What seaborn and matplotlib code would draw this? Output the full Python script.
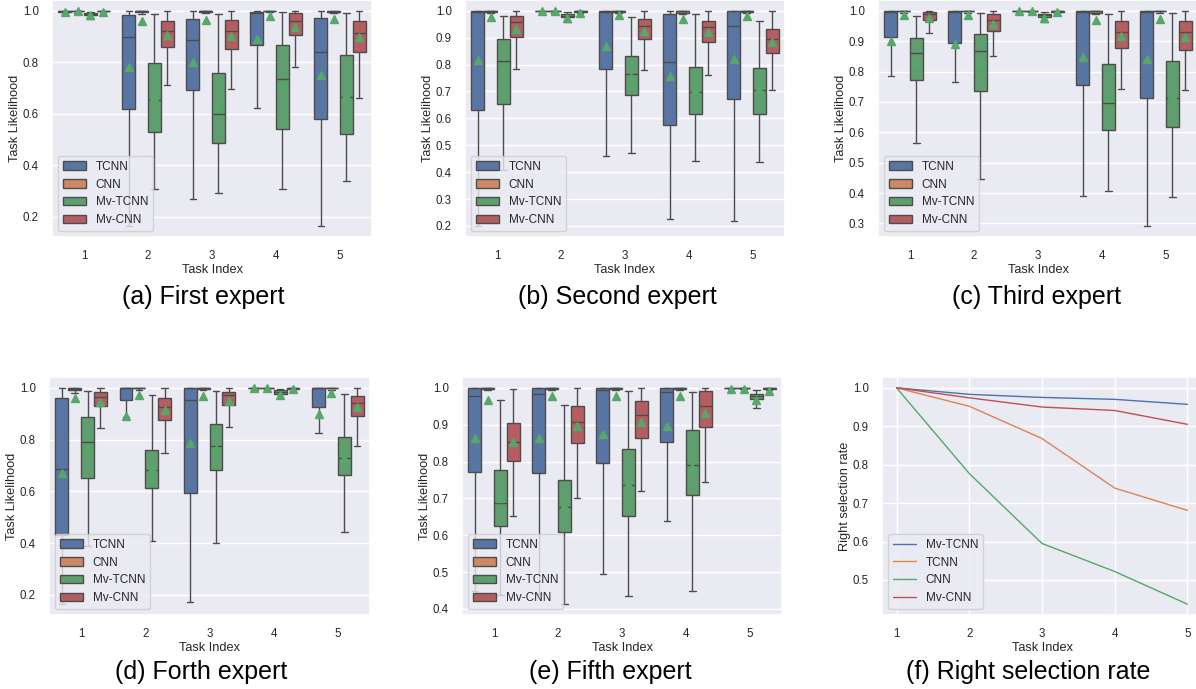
import matplotlib

matplotlib.use("Agg")
import matplotlib.pyplot as plt
import numpy as np
import pandas as pd
import seaborn as sns
from matplotlib.ticker import MultipleLocator

MODELS = ["TCNN", "CNN", "Mv-TCNN", "Mv-CNN"]
TASKS = [1, 2, 3, 4, 5]

# Box statistics
# rows: TCNN, CNN, Mv-TCNN, Mv-CNN ; columns: task 1..5
first_lo = [[0.990, 0.164, 0.271, 0.681, 0.164],
            [0.995, 0.987, 0.990, 0.995, 0.990],
            [0.975, 0.309, 0.293, 0.308, 0.338],
            [0.995, 0.711, 0.698, 0.781, 0.662]]
first_q1 = [[0.996, 0.618, 0.691, 0.869, 0.582],
            [0.998, 0.995, 0.995, 0.998, 0.994],
            [0.982, 0.528, 0.488, 0.543, 0.520],
            [0.998, 0.859, 0.851, 0.906, 0.839]]
first_med = [[0.998, 0.897, 0.887, 0.991, 0.839],
             [0.999, 0.998, 0.998, 0.999, 0.997],
             [0.988, 0.653, 0.601, 0.735, 0.666],
             [0.999, 0.920, 0.920, 0.961, 0.913]]
first_q3 = [[1.0, 0.983, 0.970, 0.997, 0.972],
            [1.0, 1.0, 1.0, 1.0, 1.0],
            [0.992, 0.798, 0.758, 0.868, 0.830],
            [1.0, 0.961, 0.965, 0.991, 0.961]]
first_hi = [[1.0, 1.0, 1.0, 1.0, 1.0],
            [1.0, 1.0, 1.0, 1.0, 1.0],
            [0.997, 0.987, 0.987, 0.994, 0.990],
            [1.0, 1.0, 1.0, 1.0, 1.0]]
first_mean = [[0.994, 0.781, 0.803, 0.891, 0.749],
              [0.998, 0.961, 0.965, 0.978, 0.968],
              [0.985, 0.666, 0.627, 0.707, 0.672],
              [0.997, 0.905, 0.904, 0.938, 0.897]]

second_lo = [[0.199, 0.995, 0.461, 0.227, 0.219],
             [0.990, 0.995, 0.990, 0.988, 0.990],
             [0.408, 0.957, 0.472, 0.441, 0.438],
             [0.784, 0.993, 0.781, 0.763, 0.707]]
second_q1 = [[0.630, 0.998, 0.784, 0.577, 0.673],
             [0.997, 0.998, 0.997, 0.992, 0.997],
             [0.652, 0.975, 0.686, 0.618, 0.618],
             [0.904, 0.997, 0.895, 0.885, 0.843]]
second_med = [[0.994, 0.999, 0.997, 0.809, 0.942],
              [0.999, 0.999, 0.999, 0.998, 0.999],
              [0.813, 0.981, 0.766, 0.698, 0.707],
              [0.957, 0.999, 0.942, 0.938, 0.895]]
second_q3 = [[0.998, 1.0, 0.998, 0.988, 0.998],
             [1.0, 1.0, 1.0, 1.0, 1.0],
             [0.895, 0.988, 0.831, 0.790, 0.788],
             [0.982, 1.0, 0.969, 0.963, 0.932]]
second_hi = [[1.0, 1.0, 1.0, 1.0, 1.0],
             [1.0, 1.0, 1.0, 1.0, 1.0],
             [0.979, 0.995, 0.975, 0.988, 0.961],
             [1.0, 1.0, 1.0, 1.0, 1.0]]
second_mean = [[0.818, 0.998, 0.868, 0.756, 0.821],
               [0.975, 0.998, 0.985, 0.969, 0.981],
               [0.772, 0.972, 0.755, 0.704, 0.710],
               [0.932, 0.991, 0.924, 0.920, 0.885]]

third_lo = [[0.785, 0.764, 0.995, 0.391, 0.291],
            [0.993, 0.993, 0.997, 0.989, 0.993],
            [0.564, 0.447, 0.964, 0.408, 0.386],
            [0.927, 0.851, 0.993, 0.742, 0.738]]
third_q1 = [[0.915, 0.893, 0.998, 0.755, 0.713],
            [0.998, 0.998, 0.999, 0.993, 0.998],
            [0.771, 0.735, 0.980, 0.607, 0.618],
            [0.969, 0.935, 0.997, 0.877, 0.871]]
third_med = [[0.997, 0.997, 0.999, 0.997, 0.997],
             [0.999, 0.999, 1.0, 0.998, 0.999],
             [0.860, 0.869, 0.986, 0.695, 0.714],
             [0.989, 0.971, 0.999, 0.931, 0.929]]
third_q3 = [[0.998, 0.998, 1.0, 0.998, 0.998],
            [1.0, 1.0, 1.0, 1.0, 1.0],
            [0.911, 0.924, 0.990, 0.826, 0.836],
            [0.997, 0.991, 1.0, 0.967, 0.967]]
third_hi = [[1.0, 1.0, 1.0, 1.0, 1.0],
            [1.0, 1.0, 1.0, 1.0, 1.0],
            [0.984, 0.992, 0.997, 0.991, 0.992],
            [1.0, 1.0, 1.0, 1.0, 1.0]]
third_mean = [[0.902, 0.891, 0.998, 0.847, 0.840],
              [0.986, 0.987, 0.999, 0.969, 0.973],
              [0.830, 0.826, 0.976, 0.716, 0.722],
              [0.975, 0.956, 0.995, 0.918, 0.915]]

fourth_lo = [[0.164, 0.887, 0.174, 0.995, 0.824],
             [0.981, 0.993, 0.990, 0.997, 0.993],
             [0.389, 0.408, 0.399, 0.959, 0.443],
             [0.846, 0.747, 0.850, 0.993, 0.775]]
fourth_q1 = [[0.432, 0.951, 0.592, 0.998, 0.927],
             [0.990, 0.998, 0.995, 0.999, 0.998],
             [0.653, 0.612, 0.681, 0.978, 0.662],
             [0.929, 0.874, 0.932, 0.997, 0.893]]
fourth_med = [[0.687, 0.998, 0.951, 0.999, 0.998],
              [0.996, 0.999, 0.998, 1.0, 0.999],
              [0.790, 0.682, 0.777, 0.985, 0.730],
              [0.965, 0.925, 0.972, 0.999, 0.940]]
fourth_q3 = [[0.961, 1.0, 1.0, 1.0, 1.0],
             [1.0, 1.0, 1.0, 1.0, 1.0],
             [0.888, 0.759, 0.862, 0.990, 0.810],
             [0.985, 0.961, 0.985, 1.0, 0.970]]
fourth_hi = [[1.0, 1.0, 1.0, 1.0, 1.0],
             [1.0, 1.0, 1.0, 1.0, 1.0],
             [0.987, 0.972, 0.987, 0.997, 0.977],
             [1.0, 1.0, 1.0, 1.0, 1.0]]
fourth_mean = [[0.672, 0.893, 0.788, 0.998, 0.897],
               [0.961, 0.974, 0.970, 0.999, 0.981],
               [0.765, 0.690, 0.762, 0.974, 0.730],
               [0.946, 0.913, 0.949, 0.997, 0.925]]

fifth_lo = [[0.450, 0.440, 0.496, 0.638, 0.997],
            [0.993, 0.995, 0.995, 0.995, 0.997],
            [0.438, 0.413, 0.435, 0.450, 0.944],
            [0.651, 0.701, 0.719, 0.745, 0.993]]
fifth_q1 = [[0.771, 0.769, 0.796, 0.854, 0.999],
            [0.997, 0.998, 0.998, 0.998, 0.999],
            [0.624, 0.609, 0.651, 0.708, 0.970],
            [0.802, 0.849, 0.865, 0.894, 0.997]]
fifth_med = [[0.978, 0.982, 0.994, 0.989, 1.0],
             [0.999, 0.999, 0.999, 0.999, 1.0],
             [0.688, 0.678, 0.737, 0.790, 0.978],
             [0.853, 0.907, 0.925, 0.952, 0.999]]
fifth_q3 = [[1.0, 1.0, 1.0, 1.0, 1.0],
            [1.0, 1.0, 1.0, 1.0, 1.0],
            [0.778, 0.750, 0.835, 0.885, 0.984],
            [0.904, 0.951, 0.964, 0.991, 1.0]]
fifth_hi = [[1.0, 1.0, 1.0, 1.0, 1.0],
            [1.0, 1.0, 1.0, 1.0, 1.0],
            [0.966, 0.953, 0.991, 0.988, 0.994],
            [0.998, 1.0, 1.0, 1.0, 1.0]]
fifth_mean = [[0.865, 0.865, 0.876, 0.897, 0.998],
              [0.967, 0.979, 0.978, 0.978, 0.998],
              [0.700, 0.680, 0.740, 0.786, 0.966],
              [0.853, 0.897, 0.907, 0.931, 0.991]]

# Right selection rate
RATE_MODELS = ["Mv-TCNN", "TCNN", "CNN", "Mv-CNN"]
rate_mv_tcnn = [1.0, 0.983, 0.975, 0.970, 0.957]
rate_tcnn = [1.0, 0.952, 0.868, 0.739, 0.681]
rate_cnn = [1.0, 0.777, 0.595, 0.522, 0.437]
rate_mv_cnn = [1.0, 0.974, 0.950, 0.941, 0.905]


# Nine points whose quartiles, whiskers and mean match the read statistics
# (an extra hidden outlier is used when the mean sits below the box)
def box_sample(lo, q1, med, q3, hi, mean):
    core = [lo, q1, med, q3, hi]
    f_min = np.array([lo, q1, med, q3])
    f_max = np.array([q1, med, q3, hi])
    target = 9 * mean
    s_min = sum(core) + f_min.sum()
    s_max = sum(core) + f_max.sum()
    if target >= s_min:
        t = 1.0 if s_max == s_min else min((target - s_min) / (s_max - s_min), 1.0)
        return core + list(f_min + t * (f_max - f_min))
    rest = [lo, q1, q1, med, med, q3, q3, hi]
    return rest + [target - sum(rest)]


def long_frame(lo, q1, med, q3, hi, mean):
    rows = []
    for m, model in enumerate(MODELS):
        for t, task in enumerate(TASKS):
            vals = box_sample(lo[m][t], q1[m][t], med[m][t], q3[m][t], hi[m][t], mean[m][t])
            for v in vals:
                rows.append({"Task Index": task, "model": model, "Task Likelihood": v})
    return pd.DataFrame(rows)


sns.set_theme(style="darkgrid")
plt.rcParams["font.family"] = ["Liberation Sans", "DejaVu Sans"]
green = sns.color_palette("deep")[2]

W, H = 1196, 689
fig = plt.figure(figsize=(W / 100, H / 100), dpi=100)


def px_axes(left, top, right, bottom):
    return fig.add_axes([left / W, 1 - bottom / H, (right - left) / W, (bottom - top) / H])


def style_axes(ax, ylabel, step):
    ax.yaxis.set_major_locator(MultipleLocator(step))
    ax.set_xlabel("Task Index", fontsize=9.2, labelpad=1)
    ax.set_ylabel(ylabel, fontsize=9.2, labelpad=1)
    ax.tick_params(labelsize=8.3, pad=3.5)
    sns.move_legend(ax, "lower left", title=None, fontsize=8.5)


def box_panel(ax, df, step):
    sns.boxplot(
        data=df, x="Task Index", y="Task Likelihood", hue="model",
        hue_order=MODELS, order=TASKS, ax=ax, whis=3.0, showfliers=False,
        showmeans=True, linewidth=1, width=0.8,
        meanprops=dict(marker="^", markerfacecolor=green, markeredgecolor=green, markersize=5.5),
    )
    style_axes(ax, "Task Likelihood", step)


panels = [
    ((52, 0, 372, 237), long_frame(first_lo, first_q1, first_med, first_q3, first_hi, first_mean), 0.2),
    ((465, 0, 785, 237), long_frame(second_lo, second_q1, second_med, second_q3, second_hi, second_mean), 0.1),
    ((878, 0, 1198, 237), long_frame(third_lo, third_q1, third_med, third_q3, third_hi, third_mean), 0.1),
    ((49, 377, 370, 615), long_frame(fourth_lo, fourth_q1, fourth_med, fourth_q3, fourth_hi, fourth_mean), 0.2),
    ((462, 377, 782, 615), long_frame(fifth_lo, fifth_q1, fifth_med, fifth_q3, fifth_hi, fifth_mean), 0.1),
]
for rect, df, step in panels:
    box_panel(px_axes(*rect), df, step)

# Panel f: right selection rate
rate_df = pd.DataFrame({
    "Task Index": TASKS * 4,
    "model": np.repeat(RATE_MODELS, len(TASKS)),
    "rate": rate_mv_tcnn + rate_tcnn + rate_cnn + rate_mv_cnn,
})
axf = px_axes(882, 377, 1202, 615)
sns.lineplot(data=rate_df, x="Task Index", y="rate", hue="model",
             hue_order=RATE_MODELS, ax=axf, linewidth=1)
axf.set_xticks(TASKS)
style_axes(axf, "Right selection rate", 0.1)

# Sub-figure captions
captions = [
    ("(a) First expert", 203, 304),
    ("(b) Second expert", 617, 304),
    ("(c) Third expert", 1037, 304),
    ("(d) Forth expert", 201, 679),
    ("(e) Fifth expert", 610, 679),
    ("(f) Right selection rate", 1028, 679),
]
for text, x, y in captions:
    fig.text(x / W, 1 - y / H, text, ha="center", va="baseline", fontsize=18, color="black")

fig.savefig("out.png", dpi=100)
